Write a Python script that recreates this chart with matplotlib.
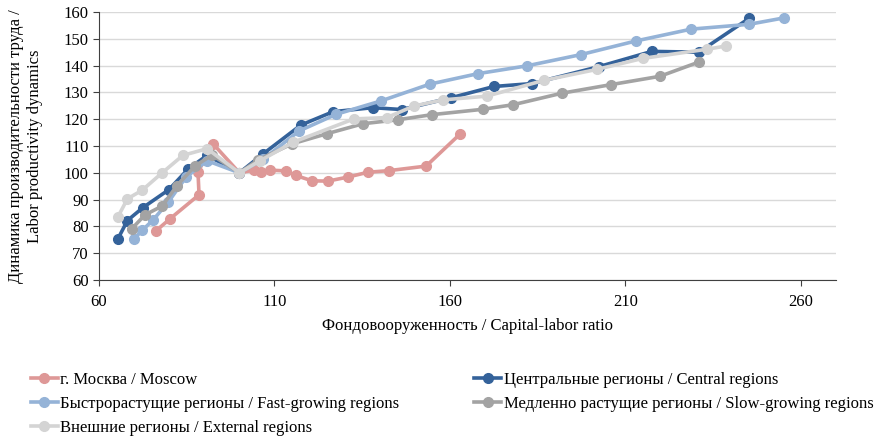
import matplotlib.pyplot as plt

plt.rcParams['font.family'] = ['Liberation Serif', 'DejaVu Serif']

# Capital-labor ratio (x) and labor productivity dynamics (y), base = 100
moscow_x = [76.2, 80.2, 88.5, 88.2, 92.5, 100, 104.2, 106.2, 108.7, 113.3, 116.1,
            120.7, 125.2, 130.9, 136.6, 142.6, 153.2, 162.9]
moscow_y = [78.3, 82.8, 91.8, 100.3, 110.8, 100, 101.0, 100.4, 101.0, 100.7, 99.0,
            97.0, 96.9, 98.4, 100.2, 100.8, 102.5, 114.5]

central_x = [65.4, 68.1, 72.5, 79.9, 85.4, 90.8, 100, 106.7, 117.5, 126.7, 138.0,
             146.3, 160.3, 172.5, 183.4, 202.4, 217.5, 230.9, 245.2]
central_y = [75.4, 82.2, 87.0, 93.7, 101.4, 106.5, 100, 107.0, 117.8, 122.8, 124.3,
             123.6, 128.0, 132.2, 133.3, 139.6, 145.3, 145.0, 157.6]

fast_x = [70.0, 72.3, 75.4, 79.7, 84.8, 90.8, 100, 106.7, 117.0, 127.5, 140.3,
          154.3, 168.0, 181.9, 197.3, 213.0, 228.7, 245.2, 255.2]
fast_y = [75.4, 78.5, 82.4, 89.0, 98.4, 104.5, 100, 105.0, 115.6, 121.8, 126.8,
          133.1, 137.0, 139.9, 144.1, 149.2, 153.6, 155.4, 157.8]

slow_x = [69.4, 73.1, 78.0, 82.2, 87.4, 92.2, 100, 105.3, 115.0, 125.0, 135.2,
          145.2, 154.9, 169.4, 178.0, 191.9, 205.9, 219.8, 230.9]
slow_y = [79.2, 84.3, 87.6, 95.2, 102.6, 106.6, 100, 104.8, 110.8, 114.6, 118.3,
          119.8, 121.7, 123.7, 125.4, 129.7, 132.9, 136.0, 141.3]

external_x = [65.4, 68.1, 72.3, 78.0, 83.9, 90.8, 100, 105.9, 115.3, 132.6, 142.0,
              149.7, 158.0, 170.5, 186.8, 201.9, 215.0, 233.2, 238.6]
external_y = [83.6, 90.3, 93.5, 100.0, 106.5, 109.0, 100, 104.5, 111.4, 120.1, 120.6,
              124.9, 127.2, 128.6, 134.5, 138.6, 142.7, 146.1, 147.3]

labels = ['г. Москва / Moscow',
          'Центральные регионы / Central regions',
          'Быстрорастущие регионы / Fast-growing regions',
          'Медленно растущие регионы / Slow-growing regions',
          'Внешние регионы / External regions']
colors = ['#DE9897', '#34629A', '#95B3D7', '#A3A3A3', '#D4D4D4']

fig = plt.figure(figsize=(8.88, 4.36), dpi=100)
ax = fig.add_axes([0.1115, 0.3578, 0.83, 0.6147])

series = [(moscow_x, moscow_y), (central_x, central_y), (fast_x, fast_y),
          (slow_x, slow_y), (external_x, external_y)]
lines = []
for (xs, ys), lab, col in zip(series, labels, colors):
    ln, = ax.plot(xs, ys, '-o', color=col, lw=2.6, ms=7, label=lab)
    lines.append(ln)

ax.set_xlim(60, 270)
ax.set_ylim(60, 160)
ax.set_xticks([60, 110, 160, 210, 260])
ax.set_yticks(range(60, 161, 10))
ax.grid(axis='y', color='#D9D9D9', lw=1)
ax.set_axisbelow(True)
for s in ['top', 'right']:
    ax.spines[s].set_visible(False)
for s in ['left', 'bottom']:
    ax.spines[s].set_color('#404040')
ax.tick_params(labelsize=12, colors='#000000', length=4, color='#404040')
ax.tick_params(axis='x', pad=6)

ax.set_xlabel('Фондовооруженность / Capital-labor ratio', fontsize=12, labelpad=6)
ax.set_ylabel('Динамика производительности труда /\nLabor productivity dynamics',
              fontsize=12, labelpad=15)

# column-first order: Moscow, Fast, External | Central, Slow
order = [0, 2, 4, 1, 3]
fig.legend([lines[i] for i in order], [labels[i] for i in order],
           loc='upper left', bbox_to_anchor=(0.035, 0.147), ncol=2, frameon=False,
           fontsize=12, handlelength=1.6, handletextpad=0.15, columnspacing=4.5,
           labelspacing=0.49, borderaxespad=0, borderpad=0)

fig.savefig('out.png', dpi=100)
